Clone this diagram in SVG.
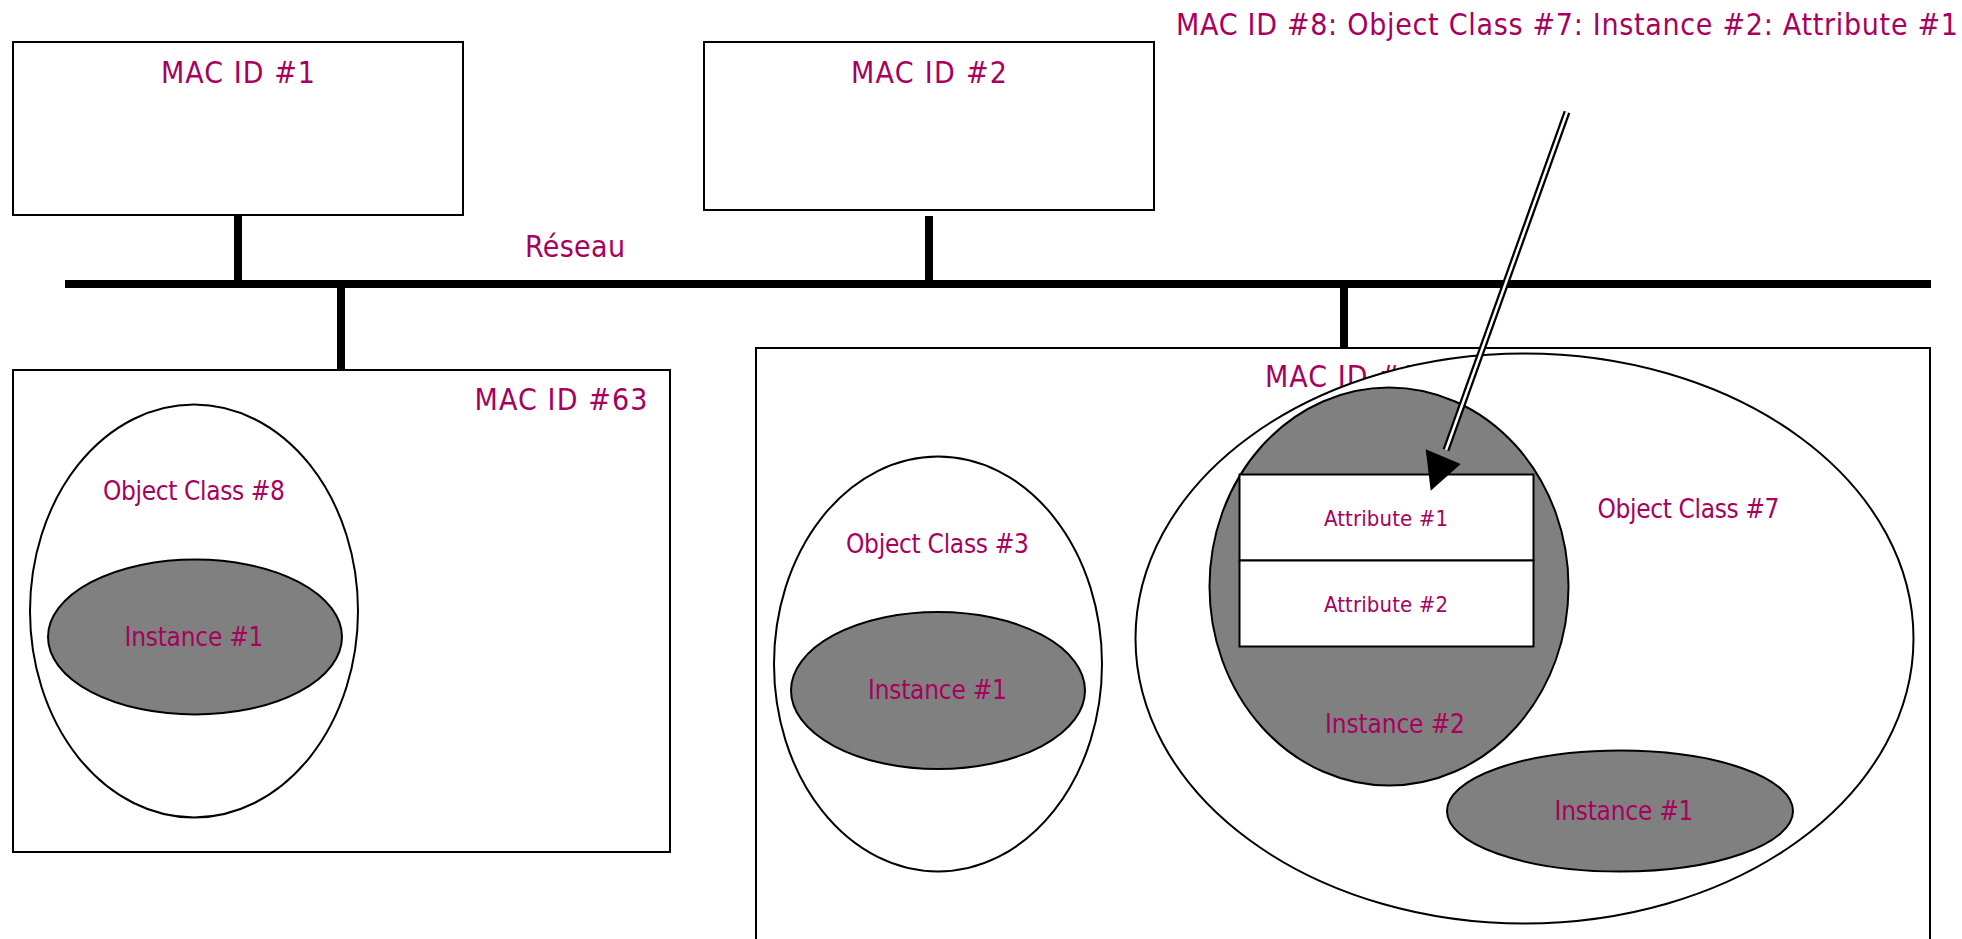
<svg xmlns="http://www.w3.org/2000/svg" width="1962" height="939" viewBox="0 0 1962 939">
<defs>
<style>
.box{fill:#fff;stroke:#000;stroke-width:2}
.cls{fill:#fff;stroke:#000;stroke-width:2}
.inst{fill:#808080;stroke:#000;stroke-width:2}
.stub{stroke:#000;stroke-width:8;fill:none}
text{font-family:"DejaVu Sans Condensed","DejaVu Sans","Liberation Sans",sans-serif;fill:#A8005E}
.big{font-size:30px}
.mid{font-size:26px}
.sm{font-size:22px}
.c{text-anchor:middle}
</style>
</defs>
<rect width="1962" height="939" fill="#fff"/>
<g id="connectors">
<line class="stub" x1="65" y1="284" x2="1931" y2="284"/>
<line class="stub" x1="238" y1="215" x2="238" y2="284"/>
<line class="stub" x1="929" y1="216" x2="929" y2="284"/>
<line class="stub" x1="341" y1="284" x2="341" y2="370"/>
<line class="stub" x1="1344" y1="284" x2="1344" y2="353"/>
</g>
<g id="reseau-label"><text class="big c" x="575" y="257" textLength="100">Réseau</text></g>
<g id="mac1">
<rect class="box" x="13" y="42" width="450" height="173"/>
<text class="big c" x="238" y="83" textLength="154">MAC ID #1</text>
</g>
<g id="mac2">
<rect class="box" x="704" y="42" width="450" height="168"/>
<text class="big c" x="929" y="83" textLength="156">MAC ID #2</text>
</g>
<g id="mac63">
<rect class="box" x="13" y="370" width="657" height="482"/>
<text class="big c" x="561" y="410" textLength="173">MAC ID #63</text>
<g id="oc8">
<ellipse class="cls" cx="194" cy="611" rx="164" ry="206.5"/>
<text class="mid c" x="194" y="500" textLength="182">Object Class #8</text>
<g id="oc8-inst1">
<ellipse class="inst" cx="195" cy="637" rx="147" ry="77.5"/>
<text class="mid c" x="194" y="646" textLength="139">Instance #1</text>
</g>
</g>
</g>
<g id="mac8">
<rect class="box" x="756" y="348" width="1174" height="620"/>
<text class="big" x="1265" y="387" textLength="154">MAC ID #8</text>
<g id="oc3">
<ellipse class="cls" cx="938" cy="664" rx="164" ry="207.5"/>
<text class="mid c" x="937.5" y="553" textLength="183">Object Class #3</text>
<g id="oc3-inst1">
<ellipse class="inst" cx="938" cy="690.5" rx="147" ry="78.5"/>
<text class="mid c" x="937.5" y="699" textLength="139">Instance #1</text>
</g>
</g>
<g id="oc7">
<ellipse class="cls" cx="1524.5" cy="638.5" rx="389" ry="285"/>
<text class="mid c" x="1688.5" y="518" textLength="182">Object Class #7</text>
<g id="oc7-inst2">
<ellipse class="inst" cx="1389" cy="586.5" rx="179.5" ry="199"/>
<text class="mid c" x="1395" y="733" textLength="140">Instance #2</text>
<g id="attr1">
<rect class="box" x="1239.5" y="474.5" width="294" height="86"/>
<text class="sm c" x="1386" y="526" textLength="124">Attribute #1</text>
</g>
<g id="attr2">
<rect class="box" x="1239.5" y="560.5" width="294" height="86"/>
<text class="sm c" x="1386" y="612" textLength="124">Attribute #2</text>
</g>
</g>
<g id="oc7-inst1">
<ellipse class="inst" cx="1620" cy="811" rx="173" ry="60.5"/>
<text class="mid c" x="1624" y="820" textLength="139">Instance #1</text>
</g>
</g>
</g>
<g id="path-label"><text class="big" x="1176" y="35" textLength="782">MAC ID #8: Object Class #7: Instance #2: Attribute #1</text></g>
<g id="arrow">
<line x1="1567" y1="112" x2="1446" y2="450" stroke="#000" stroke-width="7"/>
<line x1="1567" y1="112" x2="1446" y2="450" stroke="#fff" stroke-width="2.5"/>
<polygon points="1430.7,490.7 1425.7,449.3 1460.7,464" fill="#000"/>
</g>
</svg>
